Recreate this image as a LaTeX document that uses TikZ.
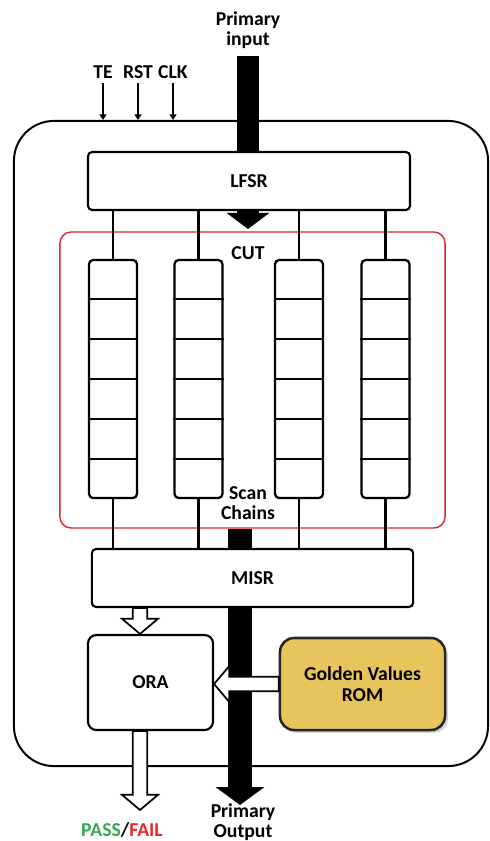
\documentclass[tikz,border=0pt]{standalone}
\usepackage{fontspec}
\setmainfont{Carlito}
\usepackage{tikz}
\usetikzlibrary{calc, positioning, arrows.meta, shadows}
\definecolor{cutred}{RGB}{222, 38, 42}
\definecolor{romgold}{RGB}{232, 196, 92}
\definecolor{passgreen}{RGB}{52, 168, 83}
\definecolor{failred}{RGB}{234, 40, 40}

\begin{document}
\begin{tikzpicture}[x=0.025cm, y=-0.025cm, >=Stealth,
  font=\bfseries\fontsize{14}{14.5}\selectfont,
  block/.style={draw, line width=1.5pt, rounded corners=3pt, fill=white, inner sep=0pt},
  chainbox/.style={draw, line width=1.6pt, rounded corners=3pt, minimum width=1.2cm, minimum height=5.95cm, inner sep=0pt},
  bus/.style={line width=15pt, black},
  hollow/.style={draw=black, fill=white, line width=1.2pt, line join=miter,
    to path={let \p1=($(\tikztotarget)!0.38cm!(\tikztostart)$) in
      ($(\tikztostart)!0.18cm!90:(\tikztotarget)$) -- ($(\p1)!0.18cm!90:(\tikztotarget)$)
      -- ($(\p1)!0.45cm!90:(\tikztotarget)$) -- (\tikztotarget)
      -- ($(\p1)!0.45cm!-90:(\tikztotarget)$) -- ($(\p1)!0.18cm!-90:(\tikztotarget)$)
      -- ($(\tikztostart)!0.18cm!-90:(\tikztotarget)$) -- cycle}}]
  \useasboundingbox (0,0) rectangle (489,841);

  % BIST wrapper
  \node[draw, line width=1.4pt, rounded corners=1cm, minimum width=11.85cm, minimum height=16.125cm] (outer) at (251, 443.5) {};

  % control inputs
  \node (lblte) at (103, 72) {TE};
  \node (lblrst) at (138, 72) {RST};
  \node (lblclk) at (173, 72) {CLK};
  \foreach \s in {te, rst, clk}
    \draw[-{Triangle[length=4pt, width=5pt]}, line width=1pt] (lblte.south -| lbl\s) -- (lbl\s |- outer.north);

  % primary input / output
  \node[align=center] (lblpi) at (248, 30) {Primary\\input};
  \coordinate (pin) at (248, 56);
  \coordinate (cutin) at (248, 229);
  \coordinate (pout) at (240, 805);
  \node[align=center] (lblpo) at (243, 822) {Primary\\Output};

  % LFSR, CUT, MISR
  \node[block, minimum width=8.05cm, minimum height=1.45cm] (lfsr) at (249, 181) {LFSR};
  \draw[bus] (pin) -- (lfsr.north -| pin);
  \draw[bus, -{Triangle[length=0.4cm, width=1.05cm]}] (lfsr.south -| cutin) -- (cutin);

  \node[draw=cutred, line width=1pt, rounded corners=8pt, minimum width=9.625cm, minimum height=7.4cm] (cut) at (252.5, 380) {};
  \node (lblcut) at (248, 253) {CUT};
  \node[align=center] (lblscan) at (248, 503) {Scan\\Chains};

  \node[block, minimum width=8.03cm, minimum height=1.45cm] (misr) at (252.5, 578) {MISR};
  \draw[line width=17pt] (cut.south -| pout) -- (misr.north -| pout);
  \draw[line width=17pt, -{Triangle[length=0.45cm, width=1.2cm]}] (misr.south -| pout) -- (pout);

  % scan chains
  \foreach \i/\x in {1/113, 2/198.5, 3/299, 4/385.5} {
    \node[chainbox] (chain\i) at (\x, 379) {};
    \foreach \k in {1,...,5}
      \draw[line width=1.6pt] ($(chain\i.north west)!\k/6!(chain\i.south west)$) -- ($(chain\i.north east)!\k/6!(chain\i.south east)$);
    \draw[line width=1.6pt] (lfsr.south -| chain\i.north) -- (chain\i.north);
    \draw[line width=1.6pt] (chain\i.south) -- (misr.north -| chain\i.south);
  }

  % response analysis
  \node[block, rounded corners=6pt, minimum width=3.125cm, minimum height=2.375cm] (ora) at (150.5, 682.5) {ORA};
  \node[draw=black!85, line width=1.8pt, fill=romgold, rounded corners=10pt, align=center,
        minimum width=4.125cm, minimum height=2.3cm, drop shadow={shadow xshift=2pt, shadow yshift=-2pt, opacity=0.35}]
        (rom) at (362.5, 684) {Golden Values\\ROM};
  \coordinate (oratap) at (140, 0);
  \coordinate (pftip) at (140, 810);
  \node (lblpf) at (122, 830) {\textcolor{passgreen}{PASS}/\textcolor{failred}{FAIL}};

  \draw[hollow] (misr.south -| oratap) to (ora.north -| oratap);
  \draw[hollow] (rom.west) to (ora.east |- rom.west);
  \draw[hollow] (ora.south -| oratap) to (pftip);
\end{tikzpicture}
\end{document}
